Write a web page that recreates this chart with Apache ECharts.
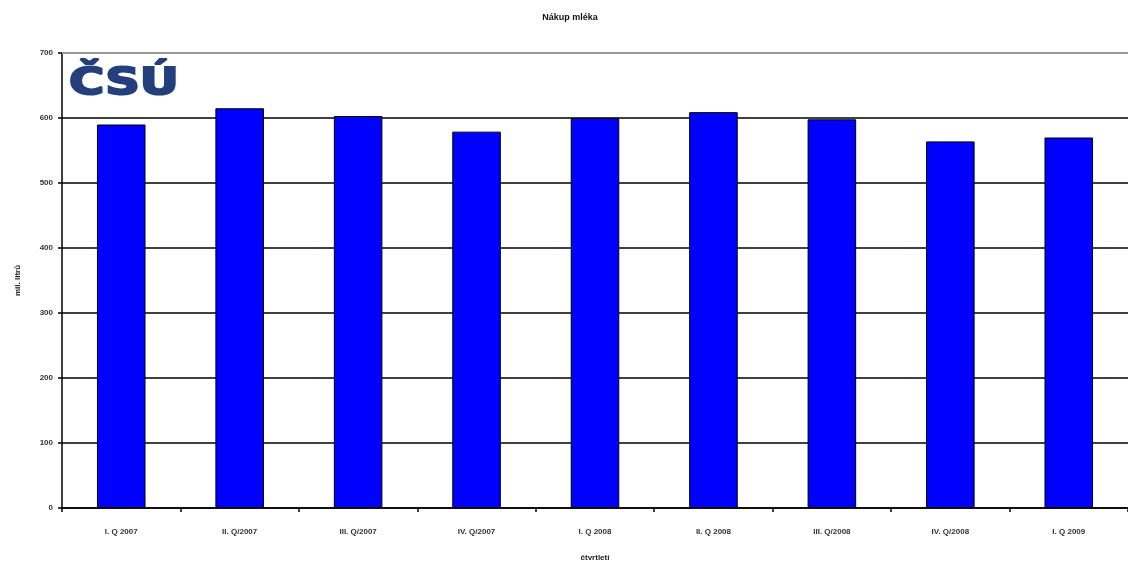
<!DOCTYPE html>
<html>
<head>
<meta charset="utf-8">
<script src="https://cdn.jsdelivr.net/npm/echarts@6/dist/echarts.min.js"></script>
<style>
  html, body { margin: 0; padding: 0; background: #fff; }
  #chart { width: 1128px; height: 567px; }
</style>
</head>
<body>
<div id="chart"></div>
<script>
// Quarterly milk purchases, million litres
const quarters = ['I. Q 2007', 'II. Q/2007', 'III. Q/2007', 'IV. Q/2007', 'I. Q 2008', 'II. Q 2008', 'III. Q/2008', 'IV. Q/2008', 'I. Q 2009'];
const purchases = [590, 615, 603, 579, 600, 609, 598, 564, 570];
const yTicks = { min: 0, max: 700, interval: 100 };

const FONT = '"Liberation Sans", Arial, sans-serif';
const chart = echarts.init(document.getElementById('chart'), null, { renderer: 'canvas' });

chart.setOption({
  animation: false,
  backgroundColor: '#ffffff',
  title: {
    text: 'Nákup mléka',
    left: 565, top: 8, textAlign: 'center',
    textStyle: { fontFamily: FONT, fontSize: 9, fontWeight: 'bold', color: '#111' }
  },
  graphic: [{
    type: 'text',
    x: 69, y: 66,
    scaleX: 1.3,
    style: {
      text: 'ČSÚ',
      fontFamily: '"DejaVu Sans", sans-serif',
      fontSize: 37, fontWeight: 'bold',
      fill: '#233f7c',
      stroke: '#233f7c',
      lineWidth: 2
    }
  }],
  grid: { left: 62, right: 0, top: 53, bottom: 56, containLabel: false },
  xAxis: {
    type: 'category',
    data: quarters,
    name: 'čtvrtletí',
    nameLocation: 'middle',
    nameGap: 46,
    nameTextStyle: { fontFamily: FONT, fontSize: 8, fontWeight: 'bold', color: '#222' },
    axisLine: { lineStyle: { color: '#000', width: 1.5 } },
    axisTick: { show: true, length: 4, lineStyle: { color: '#000', width: 1.5 } },
    axisLabel: { margin: 20, fontFamily: FONT, fontSize: 8, fontWeight: 'bold', color: '#333', interval: 0 }
  },
  yAxis: {
    type: 'value',
    min: yTicks.min, max: yTicks.max, interval: yTicks.interval,
    name: 'mil. litrů',
    nameLocation: 'middle',
    nameRotate: 90,
    nameGap: 40,
    nameTextStyle: { fontFamily: FONT, fontSize: 8, fontWeight: 'bold', color: '#222' },
    axisLine: { show: true, lineStyle: { color: '#000', width: 1.5 } },
    axisTick: { show: true, length: 4, lineStyle: { color: '#000', width: 1.5 } },
    axisLabel: { margin: 9, fontFamily: FONT, fontSize: 8, fontWeight: 'bold', color: '#333' },
    splitLine: { show: true, lineStyle: { color: ['#000', '#000', '#000', '#000', '#000', '#000', '#000', '#9a9a9a'], width: 1.5 } }
  },
  series: [{
    type: 'bar',
    data: purchases,
    barWidth: '41%',
    itemStyle: { color: '#0000ff', borderColor: '#000', borderWidth: 1 },
    markLine: {
      silent: true, symbol: 'none', label: { show: false },
      lineStyle: { color: '#9a9a9a', width: 2, type: 'solid' },
      data: [{ yAxis: 700 }]
    }
  }]
});
</script>
</body>
</html>
